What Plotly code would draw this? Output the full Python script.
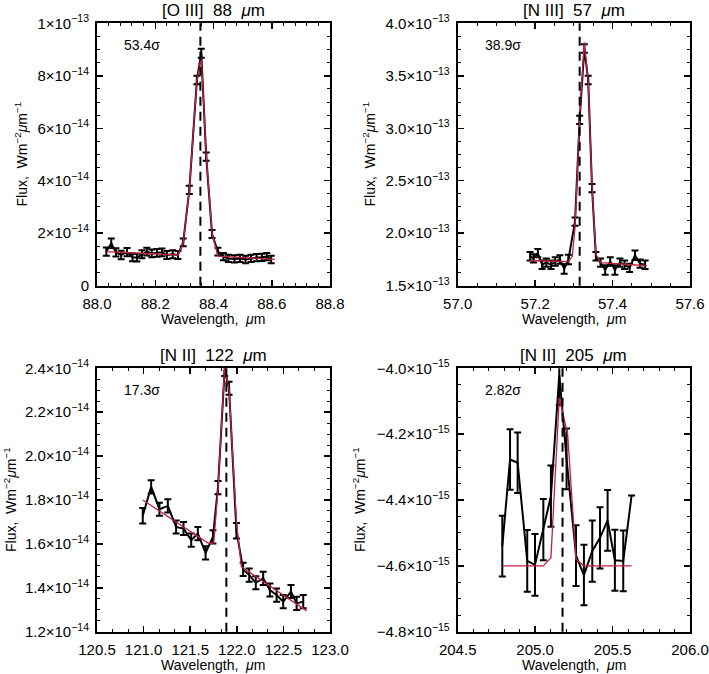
import plotly.graph_objects as go

W, H = 709, 674
FONT = "Liberation Sans"
RED = "rgb(190,35,65)"

# ---------------- Panel 1: [O III] 88 um (flux in 1e-14 W m^-2 um^-1) ----------------
o3_scale = 1e-14
o3_wave = [88.032, 88.049, 88.065, 88.083, 88.103, 88.122, 88.137, 88.154, 88.171, 88.188,
           88.206, 88.223, 88.240, 88.260, 88.278, 88.296, 88.317, 88.343, 88.358, 88.375,
           88.395, 88.415, 88.434, 88.451, 88.472, 88.491, 88.510, 88.529, 88.548, 88.566,
           88.583, 88.598]
o3_flux = [1.30, 1.62, 1.27, 1.17, 1.28, 1.08, 1.07, 1.20, 1.30, 1.23,
           1.25, 1.27, 1.17, 1.20, 1.17, 1.65, 3.65, 7.84, 8.86, 4.92,
           1.97, 1.30, 1.11, 1.04, 1.02, 1.04, 1.00, 1.04, 1.07, 1.08,
           1.11, 1.00]
o3_err = [0.16, 0.18, 0.16, 0.16, 0.16, 0.15, 0.15, 0.15, 0.15, 0.15,
          0.15, 0.15, 0.15, 0.15, 0.15, 0.15, 0.16, 0.16, 0.17, 0.16,
          0.15, 0.15, 0.14, 0.14, 0.14, 0.14, 0.14, 0.14, 0.14, 0.14,
          0.14, 0.14]
o3_fit_wave = [88.032, 88.278, 88.296, 88.317, 88.343, 88.358, 88.375, 88.395, 88.415, 88.611]
o3_fit_flux = [1.30, 1.17, 1.62, 3.65, 7.80, 8.73, 5.00, 2.00, 1.13, 1.00]
o3_center = 88.355
o3_sigma = "53.4σ"
o3_xticks = [88.0, 88.2, 88.4, 88.6, 88.8]
o3_xtext = ["88.0", "88.2", "88.4", "88.6", "88.8"]
o3_yticks = [0, 2e-14, 4e-14, 6e-14, 8e-14, 1e-13]
o3_ytext = ["0", "2×10<sup>−14</sup>", "4×10<sup>−14</sup>", "6×10<sup>−14</sup>",
            "8×10<sup>−14</sup>", "1×10<sup>−13</sup>"]

# ---------------- Panel 2: [N III] 57 um (flux in 1e-13) ----------------
n3_scale = 1e-13
n3_wave = [57.187, 57.196, 57.207, 57.218, 57.229, 57.241, 57.252, 57.264, 57.275, 57.286,
           57.303, 57.315, 57.327, 57.337, 57.347, 57.357, 57.369, 57.381, 57.394, 57.406,
           57.419, 57.431, 57.444, 57.458, 57.471, 57.484]
n3_flux = [1.78, 1.76, 1.81, 1.70, 1.72, 1.70, 1.73, 1.75, 1.66, 1.75,
           2.11, 3.08, 3.76, 3.46, 2.43, 1.78, 1.72, 1.65, 1.73, 1.65,
           1.72, 1.70, 1.67, 1.79, 1.71, 1.70]
n3_err = [0.04, 0.04, 0.04, 0.04, 0.04, 0.04, 0.04, 0.04, 0.045, 0.045,
          0.04, 0.04, 0.04, 0.04, 0.04, 0.04, 0.04, 0.045, 0.04, 0.045,
          0.04, 0.04, 0.04, 0.045, 0.04, 0.04]
n3_fit_wave = [57.187, 57.286, 57.296, 57.303, 57.315, 57.327, 57.337, 57.347, 57.357,
               57.369, 57.489]
n3_fit_flux = [1.74, 1.73, 1.78, 2.05, 3.10, 3.82, 3.45, 2.45, 1.80, 1.72, 1.69]
n3_center = 57.315
n3_sigma = "38.9σ"
n3_xticks = [57.0, 57.2, 57.4, 57.6]
n3_xtext = ["57.0", "57.2", "57.4", "57.6"]
n3_yticks = [1.5e-13, 2.0e-13, 2.5e-13, 3.0e-13, 3.5e-13, 4.0e-13]
n3_ytext = ["1.5×10<sup>−13</sup>", "2.0×10<sup>−13</sup>", "2.5×10<sup>−13</sup>",
            "3.0×10<sup>−13</sup>", "3.5×10<sup>−13</sup>", "4.0×10<sup>−13</sup>"]

# ---------------- Panel 3: [N II] 122 um (flux in 1e-14) ----------------
n2a_scale = 1e-14
n2a_wave = [120.991, 121.081, 121.170, 121.260, 121.349, 121.428, 121.511, 121.582,
            121.665, 121.744, 121.798, 121.870, 121.917, 121.996, 122.068, 122.133,
            122.204, 122.283, 122.355, 122.427, 122.498, 122.581, 122.642, 122.713]
n2a_flux = [1.728, 1.860, 1.758, 1.773, 1.677, 1.670, 1.617, 1.647,
            1.559, 1.632, 1.856, 2.395, 2.309, 1.660, 1.484, 1.458,
            1.423, 1.443, 1.390, 1.367, 1.337, 1.383, 1.329, 1.337]
n2a_err = [0.035, 0.03, 0.03, 0.03, 0.03, 0.03, 0.03, 0.03,
           0.03, 0.03, 0.03, 0.03, 0.03, 0.035, 0.03, 0.03,
           0.03, 0.03, 0.03, 0.03, 0.03, 0.03, 0.03, 0.03]
n2a_fit_wave = [120.991, 121.699, 121.753, 121.798, 121.870, 121.917, 121.996, 122.049,
                122.749]
n2a_fit_flux = [1.800, 1.602, 1.605, 1.850, 2.410, 2.300, 1.700, 1.496, 1.295]
n2a_center = 121.888
n2a_sigma = "17.3σ"
n2a_xticks = [120.5, 121.0, 121.5, 122.0, 122.5, 123.0]
n2a_xtext = ["120.5", "121.0", "121.5", "122.0", "122.5", "123.0"]
n2a_yticks = [1.2e-14, 1.4e-14, 1.6e-14, 1.8e-14, 2.0e-14, 2.2e-14, 2.4e-14]
n2a_ytext = ["1.2×10<sup>−14</sup>", "1.4×10<sup>−14</sup>", "1.6×10<sup>−14</sup>",
             "1.8×10<sup>−14</sup>", "2.0×10<sup>−14</sup>", "2.2×10<sup>−14</sup>",
             "2.4×10<sup>−14</sup>"]

# ---------------- Panel 4: [N II] 205 um (flux in 1e-15) ----------------
n2b_scale = 1e-15
n2b_wave = [204.788, 204.838, 204.887, 204.949, 204.999, 205.053, 205.102, 205.156,
            205.203, 205.264, 205.315, 205.369, 205.419, 205.468, 205.515, 205.569,
            205.623]
n2b_flux = [-4.540, -4.277, -4.287, -4.585, -4.597, -4.490, -4.388, -4.020,
            -4.275, -4.569, -4.628, -4.555, -4.515, -4.462, -4.583, -4.585,
            -4.386]
n2b_err = [0.092, 0.092, 0.092, 0.094, 0.094, 0.093, 0.093, 0.092,
           0.092, 0.092, 0.092, 0.093, 0.093, 0.092, 0.093, 0.092,
           None]
n2b_fit_wave = [204.788, 205.053, 205.102, 205.156, 205.210, 205.264, 205.315, 205.623]
n2b_fit_flux = [-4.600, -4.600, -4.575, -4.090, -4.200, -4.580, -4.600, -4.600]
n2b_center = 205.177
n2b_sigma = "2.82σ"
n2b_xticks = [204.5, 205.0, 205.5, 206.0]
n2b_xtext = ["204.5", "205.0", "205.5", "206.0"]
n2b_yticks = [-4.8e-15, -4.6e-15, -4.4e-15, -4.2e-15, -4.0e-15]
n2b_ytext = ["−4.8×10<sup>−15</sup>", "−4.6×10<sup>−15</sup>", "−4.4×10<sup>−15</sup>",
             "−4.2×10<sup>−15</sup>", "−4.0×10<sup>−15</sup>"]

titles = ["[O III]\u00a0\u00a088\u00a0\u00a0<i>μ</i>m", "[N III]\u00a0\u00a057\u00a0\u00a0<i>μ</i>m",
          "[N II]\u00a0\u00a0122\u00a0\u00a0<i>μ</i>m", "[N II]\u00a0\u00a0205\u00a0\u00a0<i>μ</i>m"]
ytitle = "Flux,\u00a0\u00a0Wm<sup>−2</sup><i>μ</i>m<sup>−1</sup>"
xtitle = "Wavelength,\u00a0\u00a0<i>μ</i>m"

# ---------------- layout geometry (pixels in the reference picture) ----------------
# (left, right, top, bottom) of each plot box
boxes = [(97, 330, 23.3, 285.7), (457.7, 690, 23.3, 285.7),
         (97, 330, 368.3, 631.7), (457.7, 690, 368.3, 631.7)]
xranges = [[88.0, 88.8], [57.0, 57.6], [120.5, 123.0], [204.5, 206.0]]
yranges = [[0, 1e-13], [1.5e-13, 4.0e-13], [1.2e-14, 2.4e-14], [-4.8e-15, -4.0e-15]]
xminor = [0.04, 0.05, 0.5 / 3, 0.1]
yminor = [0.5e-14, 0.125e-13, 0.05e-14, 0.05e-15]
ytitle_x = [21, 369, 10, 359]

panels = [
    (o3_wave, o3_flux, o3_err, o3_fit_wave, o3_fit_flux, o3_scale, o3_center, o3_sigma,
     o3_xticks, o3_xtext, o3_yticks, o3_ytext),
    (n3_wave, n3_flux, n3_err, n3_fit_wave, n3_fit_flux, n3_scale, n3_center, n3_sigma,
     n3_xticks, n3_xtext, n3_yticks, n3_ytext),
    (n2a_wave, n2a_flux, n2a_err, n2a_fit_wave, n2a_fit_flux, n2a_scale, n2a_center, n2a_sigma,
     n2a_xticks, n2a_xtext, n2a_yticks, n2a_ytext),
    (n2b_wave, n2b_flux, n2b_err, n2b_fit_wave, n2b_fit_flux, n2b_scale, n2b_center, n2b_sigma,
     n2b_xticks, n2b_xtext, n2b_yticks, n2b_ytext),
]


def px(x):
    return x / W


def py(y):
    return 1 - y / H


fig = go.Figure()
layout = dict(template="none", width=W, height=H,
              margin=dict(l=0, r=0, t=0, b=0, pad=0), autosize=False,
              paper_bgcolor="white", plot_bgcolor="white", showlegend=False,
              font=dict(family=FONT, size=14, color="black"))
annotations = []
shapes = []

for i, (wave, flux, err, fw, ff, scale, center, sig, xt, xtx, yt, ytx) in enumerate(panels):
    n = i + 1
    xa = "x" if n == 1 else f"x{n}"
    ya = "y" if n == 1 else f"y{n}"
    l, r, t, b = boxes[i]
    yv = [v * scale for v in flux]
    ev = [(e * scale if e is not None else None) for e in err]
    fig.add_trace(go.Scatter(
        x=wave, y=yv, mode="lines", xaxis=xa, yaxis=ya,
        line=dict(color="black", width=2),
        error_y=dict(type="data", array=ev, visible=True, color="black", thickness=2, width=3.5),
        hoverinfo="skip"))
    fig.add_trace(go.Scatter(
        x=fw, y=[v * scale for v in ff], mode="lines", xaxis=xa, yaxis=ya,
        line=dict(color=RED, width=1.3), hoverinfo="skip"))

    common = dict(showline=True, linewidth=2, linecolor="black", mirror="ticks",
                  ticks="inside", ticklen=6, tickwidth=1.5, tickcolor="black",
                  showgrid=False, zeroline=False, tickmode="array", automargin=False,
                  tickfont=dict(family=FONT, size=15, color="black"),
                  ticklabelstandoff=3)
    layout["xaxis" if n == 1 else f"xaxis{n}"] = dict(
        common, domain=[px(l), px(r)], range=xranges[i], anchor=ya,
        tickvals=xt, ticktext=xtx,
        minor=dict(dtick=xminor[i], tick0=xranges[i][0], ticks="inside", ticklen=3,
                   tickwidth=1, tickcolor="black", showgrid=False))
    layout["yaxis" if n == 1 else f"yaxis{n}"] = dict(
        common, domain=[py(b), py(t)], range=yranges[i], anchor=xa,
        tickvals=yt, ticktext=ytx,
        minor=dict(dtick=yminor[i], tick0=yranges[i][0], ticks="inside", ticklen=3,
                   tickwidth=1, tickcolor="black", showgrid=False))

    shapes.append(dict(type="line", xref=xa, yref=f"{ya} domain", x0=center, x1=center,
                       y0=0, y1=1, line=dict(color="black", width=2, dash="9px,6px")))

    cx = (l + r) / 2
    annotations.append(dict(text=titles[i], x=px(cx), y=py(t - 13), xref="paper", yref="paper",
                            showarrow=False, font=dict(size=17), xanchor="center", yanchor="middle"))
    annotations.append(dict(text=xtitle, x=px(cx), y=py(b + 33), xref="paper", yref="paper",
                            showarrow=False, font=dict(size=14), xanchor="center", yanchor="middle"))
    annotations.append(dict(text=ytitle, x=px(ytitle_x[i]), y=py((t + b) / 2), xref="paper",
                            yref="paper", showarrow=False, textangle=-90,
                            font=dict(size=14), xanchor="center", yanchor="middle"))
    annotations.append(dict(text=sig, x=px(l + 25), y=py(t + 22), xref="paper", yref="paper",
                            showarrow=False, font=dict(size=14), xanchor="left", yanchor="middle"))

layout["annotations"] = annotations
layout["shapes"] = shapes
fig.update_layout(**layout)
# the page's default 8px body margin would push the figure off the window; remove it
fig.write_html("out.html", config={"displayModeBar": False, "staticPlot": True},
               post_script="document.body.style.margin='0';")
